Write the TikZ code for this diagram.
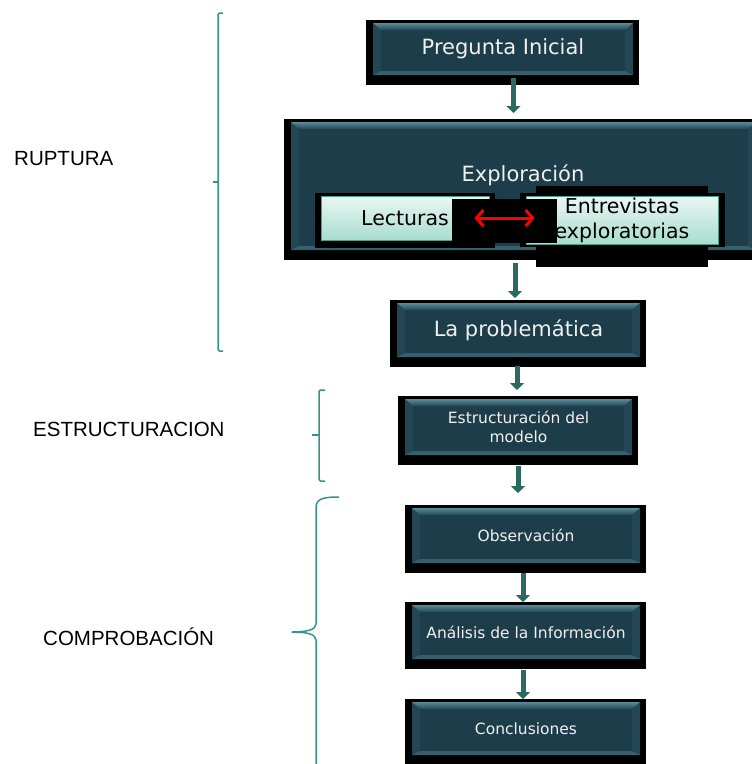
\documentclass[tikz,border=0pt]{standalone}
\usepackage{fontspec}
\setmainfont{DejaVu Sans}
\newfontfamily\labelfont{Liberation Sans}
\usetikzlibrary{arrows.meta,backgrounds}
\definecolor{boxcore}{HTML}{1D3D4A}
\definecolor{boxside}{HTML}{234755}
\definecolor{boxtop}{HTML}{5A8A96}
\definecolor{boxbot}{HTML}{36606D}
\definecolor{flowteal}{HTML}{2A6A60}
\definecolor{bracecol}{HTML}{32948A}
\definecolor{mintlight}{HTML}{E9F7F4}
\definecolor{mintdark}{HTML}{A8DCCF}
\definecolor{mintedge}{HTML}{4E9E8E}
\begin{document}
\begin{tikzpicture}[x=1pt, y=-1pt, line join=round,
  bevelbox/.style={fill=boxcore, inner sep=0pt, outer sep=0pt, text=white!94!black,
    path picture={
      \fill[boxside] (path picture bounding box.north west) -- ([xshift=8pt,yshift=-7pt]path picture bounding box.north west)
        -- ([xshift=8pt,yshift=4pt]path picture bounding box.south west) -- (path picture bounding box.south west) -- cycle;
      \fill[boxside] (path picture bounding box.north east) -- ([xshift=-8pt,yshift=-7pt]path picture bounding box.north east)
        -- ([xshift=-8pt,yshift=4pt]path picture bounding box.south east) -- (path picture bounding box.south east) -- cycle;
      \fill[top color=boxtop, bottom color=boxside] (path picture bounding box.north west) -- (path picture bounding box.north east)
        -- ([xshift=-8pt,yshift=-7pt]path picture bounding box.north east) -- ([xshift=8pt,yshift=-7pt]path picture bounding box.north west) -- cycle;
      \fill[boxbot] (path picture bounding box.south west) -- (path picture bounding box.south east)
        -- ([xshift=-8pt,yshift=4pt]path picture bounding box.south east) -- ([xshift=8pt,yshift=4pt]path picture bounding box.south west) -- cycle;
    }},
  bigtext/.style={font=\fontsize{21}{25}\selectfont, align=center},
  smalltext/.style={font=\fontsize{15.5}{19}\selectfont, align=center},
  lightbox/.style={draw=mintedge, line width=0.8pt, top color=mintlight, bottom color=mintdark,
    inner sep=0pt, text=black, font=\fontsize{20.5}{25}\selectfont, align=center},
  flowarrow/.style={draw=flowteal, line width=5pt, -{Triangle[length=7pt,width=14pt,fill=flowteal]}},
  swaparrow/.style={draw=red, line width=3pt, {Straight Barb[length=7pt,width=16pt]}-{Straight Barb[length=7pt,width=16pt]}},
  bracket/.style={draw=bracecol, line width=1.5pt},
  sidelabel/.style={font=\labelfont\fontsize{20.5}{24}\selectfont, anchor=base west, inner sep=0pt}]
\useasboundingbox (0,0) rectangle (752,764);
\clip (0,0) rectangle (752,764);

\node[bevelbox, bigtext, minimum width=260pt, minimum height=52pt] (preg) at (503,49) {Pregunta Inicial};
\node[bevelbox, minimum width=465pt, minimum height=128pt] (expl) at (523.5,186) {};
\node[bevelbox, bigtext, minimum width=243pt, minimum height=54pt] (prob) at (518.5,330) {La problemática};
\node[bevelbox, smalltext, minimum width=227pt, minimum height=56pt] (estr) at (518.5,427) {Estructuración del\\modelo};
\node[bevelbox, smalltext, minimum width=228pt, minimum height=55pt] (obs) at (526,535.5) {Observación};
\node[bevelbox, smalltext, minimum width=228pt, minimum height=54pt] (anal) at (526,632) {Análisis de la Información};
\node[bevelbox, smalltext, minimum width=228pt, minimum height=53pt] (concl) at (526,728.5) {Conclusiones};

\begin{scope}[on background layer]
  \foreach \n in {preg,expl,prob,estr,obs,anal,concl}
    \fill[black] ([xshift=-7pt,yshift=3pt]\n.north west) rectangle ([xshift=6pt,yshift=-10pt]\n.south east);
\end{scope}

\node[bigtext, text=white!94!black] (explt) at (523,175) {Exploración};

\fill[black] (315,193) rectangle (495,248);
\fill[black] (536,186) rectangle (708,267);
\fill[black] (520,193) rectangle (725,247);
\node[lightbox, minimum width=168pt, minimum height=44pt] (lect) at (405,218) {Lecturas};
\node[lightbox, minimum width=192pt, minimum height=48pt] (entr) at (622,220) {Entrevistas\\exploratorias};
\fill[black] (452,199) rectangle (557,243);
\draw[swaparrow] ([xshift=-15pt]lect.east) -- ([xshift=9pt,yshift=2pt]entr.west);

\draw[flowarrow] ([xshift=10.5pt,yshift=-3pt]preg.south) -- ([xshift=-10pt,yshift=9pt]expl.north);
\draw[flowarrow] ([xshift=-8.5pt,yshift=-13pt]expl.south) -- ([xshift=-3.5pt,yshift=5pt]prob.north);
\draw[flowarrow] ([xshift=-1.5pt,yshift=-9pt]prob.south) -- ([xshift=-1.5pt,yshift=9pt]estr.north);
\draw[flowarrow] ([xshift=-0.5pt,yshift=-11pt]estr.south) -- ([xshift=-8pt,yshift=15pt]obs.north);
\draw[flowarrow] ([xshift=-3pt,yshift=-10pt]obs.south) -- ([xshift=-3pt,yshift=3pt]anal.north);
\draw[flowarrow] ([xshift=-3pt,yshift=-11pt]anal.south) -- ([xshift=-3pt,yshift=3pt]concl.north);

\node[sidelabel] (rupt) at (14,165) {RUPTURA};
\node[sidelabel] (estrl) at (33,436) {ESTRUCTURACION};
\node[sidelabel] (compl) at (43,645) {COMPROBACIÓN};

\draw[bracket, rounded corners=1.5pt] (223,13) -- (218,13) -- (218,351) -- (223,351);
\draw[bracket] (218,182) -- (213,182);
\draw[bracket, rounded corners=1.5pt] (325,390) -- (319,390) -- (319,481) -- (325,481);
\draw[bracket] (319,435) -- (312,435);
\draw[bracket] (339,497) .. controls (322,497) and (316,499) .. (316,508) -- (316,624)
  .. controls (316,630) and (306,632) .. (292,632)
  .. controls (306,632) and (316,634) .. (316,640) -- (316,770);
\end{tikzpicture}
\end{document}
